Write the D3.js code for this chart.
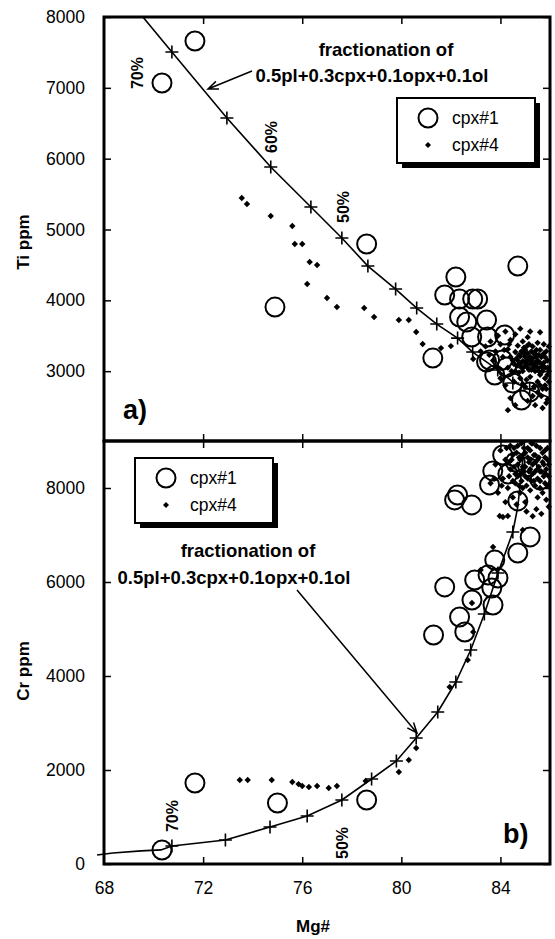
<!DOCTYPE html>
<html>
<head>
<meta charset="utf-8">
<script src="https://d3js.org/d3.v7.min.js"></script>
<style>
  body { margin: 0; background: #fff; }
  svg text { font-family: "Liberation Sans", Arial, Helvetica, sans-serif; fill: #000; }
</style>
</head>
<body>
<div id="chart"></div>
<script>
// ---- data (Mg#, ppm) ----
const xTicks = [68, 72, 76, 80, 84];
const tiTicks = [3000, 4000, 5000, 6000, 7000, 8000];
const crTicks = [0, 2000, 4000, 6000, 8000];

// fractionation model, Ti panel
const tiCurve = [[69.57,8000],[70.74,7505],[72.96,6574],[74.73,5882],[76.35,5317],[77.6,4880],[78.65,4484],[79.77,4159],[80.62,3891],[81.43,3665],[82.27,3467],[82.88,3270],[83.89,3017],[84.5,2850],[85.18,2740],[86,2620]];
const tiCross = [[70.74,7505],[72.96,6574],[74.73,5882],[76.35,5317],[77.6,4880],[78.65,4484],[79.77,4159],[80.62,3891],[81.43,3665],[82.27,3467],[82.88,3270],[83.89,3017],[84.5,2833],[85.18,2750]];
const tiPct = [["70%",69.33,7209],["60%",74.77,6306],["50%",77.68,5318]];

// fractionation model, Cr panel
const crCurve = [[67.72,191],[68.36,234],[69.5,280],[70.3,300],[70.74,383],[72.9,510],[74.7,787],[76.2,1021],[77.6,1362],[78.8,1808],[79.8,2191],[80.6,2680],[81.47,3234],[82.2,3872],[82.8,4553],[83.35,5319],[83.9,6191],[84.5,7064],[84.7,7600],[84.98,9000]];
const crCross = [[70.74,383],[72.9,510],[74.7,787],[76.2,1021],[77.6,1362],[78.8,1808],[79.8,2191],[80.6,2680],[81.47,3234],[82.2,3872],[82.8,4553],[83.35,5319],[83.9,6191],[84.5,7064]];
const crPct = [["70%",70.78,1021],["50%",77.64,447]];

// cpx#1 (circles)
const ti1 = [[71.67,7661],[70.34,7068],[74.9,3905],[78.6,4795],[81.27,3185],[84.7,4484],[82.2,4329],[81.75,4075],[82.35,4019],[82.88,4019],[83.08,4019],[82.35,3765],[82.64,3694],[83.44,3722],[82.84,3482],[83.48,3482],[84.17,3511],[83.56,3158],[84.09,3158],[83.44,3129],[83.77,2946],[84.5,2833],[85.18,2706],[84.85,2593],[84.25,3058]];
const cr1 = [[70.34,298],[71.67,1724],[75.0,1298],[78.6,1362],[81.3,4873],[81.75,5895],[82.35,5256],[82.56,4937],[82.85,5618],[82.96,6043],[83.5,6150],[83.9,6086],[83.65,5873],[83.7,5511],[83.77,6469],[84.7,6618],[85.2,6959],[82.27,7852],[82.15,7746],[82.84,7640],[83.56,8065],[83.69,8363],[84.09,8703],[84.7,7725],[84.6,8555],[85.6,8172],[84.3,8300],[85.1,8450]];

// cpx#4 (dots)
const ti4 = [[73.56,5444],[73.77,5360],[74.73,5190],[75.6,5049],[75.7,4795],[76.0,4795],[76.3,4541],[76.6,4498],[76.2,4230],[77.0,4032],[77.4,3905],[78.5,3891],[78.9,3764],[79.9,3722],[80.3,3722],[80.6,3552],[80.86,3383],[81.6,3326],[82.0,3354],[82.9,3171],
  [83.4,3350],[83.6,3420],[83.8,3280],[83.9,3500],[84.0,3380],[84.1,3200],[84.2,3560],[84.3,3050],[84.3,3310],[84.4,3440],[84.5,3150],[84.5,2980],[84.6,3270],[84.6,3520],[84.7,3080],[84.7,3360],[84.8,2900],[84.8,3210],[84.9,3420],[84.9,3000],[85.0,3130],[85.0,3300],[85.0,2780],[85.1,3050],[85.1,3480],[85.2,3200],[85.2,2920],[85.3,3350],[85.3,3100],[85.3,2650],[85.4,3000],[85.4,3250],[85.5,2850],[85.5,3150],[85.5,3400],[85.6,2950],[85.6,3300],[85.7,3080],[85.7,2750],[85.8,3200],[85.8,2900],[85.9,3050],[85.9,2600],[85.95,3350],[84.2,2800],[84.4,2620],[84.6,2520],[84.3,2450],[85.1,2580],[85.4,2520],[85.7,2480],[83.9,3050],[84.0,2900],[83.7,3150],[84.8,3600],[85.2,3560],[85.6,3550],[84.35,3380],[84.65,3180],[84.95,3250],[85.15,3380],[85.45,3200],[85.75,3380],[85.25,3020],[84.75,2980],[84.55,2850],[85.05,2880],[85.35,2780],[85.65,2650],[85.85,2750],[84.15,3300],[83.55,3230],[84.45,3000],[85.9,3150],[83.2,3280],
  [84.7,3150],[84.8,3100],[84.85,3280],[84.9,3140],[84.95,3060],[85.0,3200],[85.05,3100],[85.1,3250],[85.1,3150],[85.15,3020],[85.2,3100],[85.25,3280],[85.3,3180],[85.35,3060],[85.4,3120],[85.45,3300],[85.5,3050],[85.55,3230],[85.6,3120],[85.65,3200],[85.7,3000],[85.75,3120],[85.8,3050],[85.85,3280],[84.75,3230],[84.85,3050],[84.95,3330],[85.05,3350],[85.25,3150],[85.35,3250],[85.45,3100],[85.55,3000],[85.65,3060],[85.75,3250],[85.95,3000],[85.95,2850],[85.9,2950],[85.8,2800],[85.6,2800],[85.5,2700],[85.85,2550],[84.6,3000],[84.55,3100],[84.4,3200],[84.9,2820]];
const cr4 = [[73.48,1788],[73.8,1788],[74.77,1788],[75.6,1745],[75.85,1700],[76.0,1660],[76.27,1639],[76.6,1660],[77.07,1617],[77.4,1660],[78.56,1766],[79.9,1958],[80.3,2213],[80.6,2468],[81.95,3767],[82.68,4341],[82.9,4937],[82.85,5554],[83.2,6256],[83.7,6746],[84.9,7108],[84.1,7384],[83.97,7405],[84.3,7405],[85.3,7400],
  [83.6,8100],[83.8,8500],[83.9,7900],[84.0,8800],[84.1,8200],[84.2,7700],[84.2,8600],[84.3,8000],[84.4,8900],[84.4,8400],[84.5,7800],[84.5,8700],[84.6,8100],[84.7,8500],[84.7,8900],[84.8,7900],[84.8,8300],[84.9,8700],[84.9,8000],[85.0,8450],[85.0,7700],[85.1,8850],[85.1,8200],[85.2,7950],[85.2,8600],[85.3,8300],[85.3,8950],[85.4,8050],[85.4,8700],[85.5,7800],[85.5,8400],[85.6,8850],[85.6,8150],[85.7,8550],[85.7,7900],[85.8,8300],[85.8,8800],[85.9,8050],[85.9,8600],[85.95,7600],[84.35,8250],[84.55,8450],[84.75,8650],[84.95,8350],[85.15,8550],[85.35,8150],[85.55,8650],[85.75,8250],[85.85,7750],[84.65,7650],[85.05,7500],[85.45,7550],[85.65,7450],[84.25,8850],[84.85,8950],[83.75,8200],[84.05,8050],
  [84.6,8300],[84.65,8750],[84.8,8600],[84.85,8150],[84.9,8450],[85.0,8250],[85.0,8750],[85.05,8050],[85.1,8650],[85.15,8350],[85.2,8800],[85.25,8150],[85.3,8500],[85.35,8700],[85.4,8350],[85.45,8900],[85.5,8200],[85.5,8600],[85.55,8450],[85.6,8000],[85.65,8350],[85.7,8750],[85.75,8500],[85.8,8100],[85.85,8400],[85.9,8850],[85.95,8250],[85.95,8500],[84.45,8600],[84.5,8150],[84.7,8250],[84.75,8050],[84.55,8850],[85.2,8400],[85.4,8550],[85.6,8350],[85.8,8650],[84.95,8850],[85.25,8950],[84.35,8550]];

// ---- layout ----
const W = 555, H = 939;
const x = d3.scaleLinear().domain([68, 86]).range([104, 550]);
const yTi = d3.scaleLinear().domain([2000, 8000]).range([442, 17]);
const yCr = d3.scaleLinear().domain([0, 9000]).range([864, 441]);

const svg = d3.select("#chart").append("svg")
  .attr("width", W).attr("height", H);

function panel(y, top, bottom, yTickVals, curve, cross, pct, d1, d4, showXLabels) {
  const g = svg.append("g");
  const tickLen = 7;

  // left axis
  g.append("g").attr("transform", "translate(" + x.range()[0] + ",0)")
    .call(d3.axisLeft(y).tickValues(yTickVals).tickSize(-tickLen).tickPadding(19).tickFormat(d3.format("d")));
  // right axis ticks
  g.append("g").attr("transform", "translate(" + x.range()[1] + ",0)")
    .call(d3.axisRight(y).tickValues(yTickVals).tickSize(-tickLen).tickFormat(""));
  // top and bottom ticks
  g.append("g").attr("transform", "translate(0," + top + ")")
    .call(d3.axisTop(x).tickValues(xTicks.slice(1)).tickSize(-tickLen).tickFormat(""));
  const bot = g.append("g").attr("transform", "translate(0," + bottom + ")")
    .call(d3.axisBottom(x).tickValues(xTicks).tickSize(-tickLen).tickPadding(18).tickFormat(d3.format("d")));
  if (!showXLabels) bot.selectAll("text").remove();
  g.selectAll(".domain").remove();
  g.selectAll(".tick line").attr("stroke", "#000").attr("stroke-width", 1.5);
  g.selectAll(".tick text").attr("font-size", 17.5).attr("font-family", "Liberation Sans, Arial, sans-serif").attr("fill", "#000");
  bot.selectAll(".tick").filter(d => d === 68).select("line").remove();

  // model curve
  g.append("path").datum(curve)
    .attr("fill", "none").attr("stroke", "#000").attr("stroke-width", 1.6)
    .attr("d", d3.line().x(d => x(d[0])).y(d => y(d[1])));

  // cpx#1 circles
  g.selectAll(".c1").data(d1).enter().append("circle")
    .attr("cx", d => x(d[0])).attr("cy", d => y(d[1])).attr("r", 9.5)
    .attr("fill", "none").attr("stroke", "#000").attr("stroke-width", 2);

  // cpx#4 dots (small diamonds)
  g.selectAll(".c4").data(d4).enter().append("path")
    .attr("d", d => {
      const px = x(d[0]), py = y(d[1]), s = 3.2;
      return "M" + px + "," + (py - s) + "L" + (px + s) + "," + py + "L" + px + "," + (py + s) + "L" + (px - s) + "," + py + "Z";
    })
    .attr("fill", "#000");

  // crosses
  g.selectAll(".cross").data(cross).enter().append("path")
    .attr("d", d => {
      const px = x(d[0]), py = y(d[1]), s = 6.5;
      return "M" + (px - s) + "," + py + "H" + (px + s) + "M" + px + "," + (py - s) + "V" + (py + s);
    })
    .attr("stroke", "#000").attr("stroke-width", 1.6);

  // percentage labels
  g.selectAll(".pct").data(pct).enter().append("text")
    .attr("transform", d => "translate(" + x(d[1]) + "," + y(d[2]) + ") rotate(-90)")
    .attr("text-anchor", "middle").attr("dy", "0.35em")
    .attr("font-size", 16).attr("font-weight", "bold")
    .text(d => d[0]);

  // frame
  g.append("rect").attr("x", x.range()[0]).attr("y", top)
    .attr("width", x.range()[1] - x.range()[0]).attr("height", bottom - top)
    .attr("fill", "none").attr("stroke", "#000").attr("stroke-width", 3);
  return g;
}

panel(yTi, 17, 441, tiTicks, tiCurve, tiCross, tiPct, ti1, ti4, false);
panel(yCr, 441, 864, crTicks, crCurve, crCross, crPct, cr1, cr4, true);

// axis titles
svg.append("text").attr("transform", "translate(29,242) rotate(-90)")
  .attr("text-anchor", "middle").attr("font-size", 17).attr("font-weight", "bold").text("Ti ppm");
svg.append("text").attr("transform", "translate(29,671) rotate(-90)")
  .attr("text-anchor", "middle").attr("font-size", 17).attr("font-weight", "bold").text("Cr ppm");
svg.append("text").attr("x", 313).attr("y", 932)
  .attr("text-anchor", "middle").attr("font-size", 17).attr("font-weight", "bold").text("Mg#");

// panel letters
svg.append("text").attr("x", 123).attr("y", 419).attr("font-size", 27).attr("font-weight", "bold").text("a)");
svg.append("text").attr("x", 503).attr("y", 843).attr("font-size", 27).attr("font-weight", "bold").text("b)");

// annotations with arrows
function arrow(x1, y1, x2, y2) {
  const a = Math.atan2(y2 - y1, x2 - x1), L = 11, sp = 0.38;
  svg.append("path")
    .attr("d", "M" + x1 + "," + y1 + "L" + x2 + "," + y2 +
      "M" + (x2 - L * Math.cos(a - sp)) + "," + (y2 - L * Math.sin(a - sp)) + "L" + x2 + "," + y2 +
      "L" + (x2 - L * Math.cos(a + sp)) + "," + (y2 - L * Math.sin(a + sp)))
    .attr("fill", "none").attr("stroke", "#000").attr("stroke-width", 1.5);
}
function note(cx1, y1, cx2, y2) {
  svg.append("text").attr("x", cx1).attr("y", y1).attr("text-anchor", "middle")
    .attr("font-size", 18.5).attr("font-weight", "bold").text("fractionation of");
  svg.append("text").attr("x", cx2).attr("y", y2).attr("text-anchor", "middle")
    .attr("font-size", 18.5).attr("font-weight", "bold").text("0.5pl+0.3cpx+0.1opx+0.1ol");
}
note(386, 56, 372, 82);
arrow(252, 71, 208, 89);
note(248, 557, 234, 584);
arrow(297, 590, 417, 733);

// legends
function legend(bx, by) {
  const w = 138, h = 65, off = 5;
  const g = svg.append("g");
  g.append("rect").attr("x", bx + off).attr("y", by + off).attr("width", w).attr("height", h).attr("fill", "#000");
  g.append("rect").attr("x", bx).attr("y", by).attr("width", w).attr("height", h)
    .attr("fill", "#fff").attr("stroke", "#000").attr("stroke-width", 2);
  g.append("circle").attr("cx", bx + 31).attr("cy", by + 20).attr("r", 9.5)
    .attr("fill", "none").attr("stroke", "#000").attr("stroke-width", 2);
  g.append("path").attr("d", "M" + (bx + 31) + "," + (by + 44) + "l3,3l-3,3l-3,-3z").attr("fill", "#000");
  g.append("text").attr("x", bx + 55).attr("y", by + 26).attr("font-size", 17.5).text("cpx#1");
  g.append("text").attr("x", bx + 55).attr("y", by + 53).attr("font-size", 17.5).text("cpx#4");
}
legend(397, 98);
legend(135, 458);
</script>
</body>
</html>
